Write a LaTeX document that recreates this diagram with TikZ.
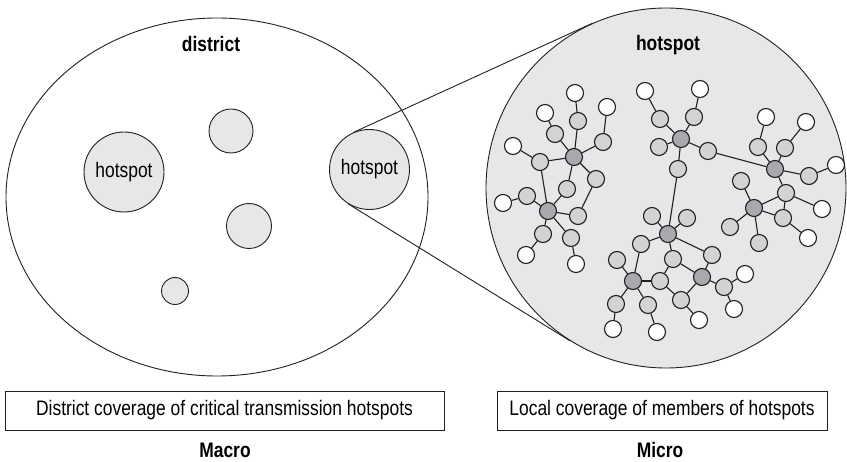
\documentclass[tikz,border=0pt]{standalone}
\usepackage{fontspec}
\setmainfont{Liberation Sans}[FakeStretch=0.83]
\usetikzlibrary{shapes.geometric}
\definecolor{bgfill}{HTML}{E6E7E8}
\definecolor{lightnode}{HTML}{D1D3D4}
\definecolor{darknode}{HTML}{A7A9AC}
\definecolor{ink}{HTML}{231F20}
\begin{document}
\begin{tikzpicture}[x=1pt,y=-1pt,
  font=\fontsize{21}{25}\selectfont,
  outline/.style={draw=ink, line width=0.9pt},
  spot/.style={circle, outline, fill=bgfill, inner sep=0pt},
  ln/.style={circle, draw=ink, line width=1.1pt, fill=lightnode, minimum size=17pt, inner sep=0pt},
  dn/.style={ln, fill=darknode},
  wn/.style={ln, fill=white},
  link/.style={draw=ink, line width=1.1pt},
  textbox/.style={outline, minimum height=39pt, inner sep=0pt},
  title/.style={font=\fontsize{21}{25}\selectfont\bfseries}]
\useasboundingbox (0,0) rectangle (847,462);

% macro side
\node[ellipse, outline, minimum width=422pt, minimum height=358pt, inner sep=0pt] (district) at (217,197) {};
\node[title] (dtitle) at (211,44) {district};
\node[spot, minimum size=80pt] (hs1) at (124,172) {hotspot};
\node[spot, minimum size=44pt] (s2) at (231,131) {};
\node[spot, minimum size=45pt] (s3) at (249,226) {};
\node[spot, minimum size=27pt] (s4) at (175,291) {};

% micro side
\node[spot, minimum size=360pt] (micro) at (666,188) {};
\node[spot, minimum size=80pt] (hs2) at (369.5,169.5) {hotspot};
\draw[outline] (hs2.114.4) -- (micro.114.4);
\draw[outline] (hs2.238.3) -- (micro.238.3);
\node[title] (htitle) at (668,45) {hotspot};

% cluster A
\node[dn] (A0) at (574,157) {};
\node[ln] (a1) at (578,121) {}; \node[wn] (wa1) at (575,93) {};
\node[ln] (a2) at (603,142) {}; \node[wn] (wa2) at (607,107) {};
\node[ln] (a3) at (540,162) {}; \node[wn] (wa3) at (513,146) {};
\node[ln] (a4) at (555,134) {}; \node[wn] (wa4) at (545,113) {};
\node[ln] (a5) at (567,189) {};
\node[ln] (a6) at (596,179) {};
% cluster B
\node[dn] (B0) at (548,211) {};
\node[ln] (b1) at (527,196) {}; \node[wn] (wb1) at (503,203) {};
\node[ln] (b2) at (578,216) {};
\node[ln] (b3) at (543,234) {}; \node[wn] (wb3) at (526,255) {};
\node[ln] (b4) at (571,238) {}; \node[wn] (wb4) at (576,264) {};
% cluster C
\node[dn] (C0) at (681,139) {};
\node[ln] (c1) at (660,119) {}; \node[wn] (wc1) at (645,91) {};
\node[ln] (c2) at (694,117) {}; \node[wn] (wc2) at (700,89) {};
\node[ln] (c3) at (659,147) {};
\node[ln] (c4) at (708,151) {};
\node[ln] (c5) at (678,169) {};
% cluster D
\node[dn] (D0) at (775,169) {};
\node[ln] (d1) at (758,147) {}; \node[wn] (wd1) at (766,117) {};
\node[ln] (d2) at (785,148) {}; \node[wn] (wd2) at (806,122) {};
\node[ln] (d3) at (809,176) {}; \node[wn] (wd3) at (836,165) {};
\node[ln] (d4) at (786,193) {}; \node[wn] (wd4) at (822,209) {};
% cluster F
\node[dn] (F0) at (754,208) {};
\node[ln] (f1) at (741,181) {};
\node[ln] (f2) at (730,227) {};
\node[ln] (f3) at (759,243) {};
\node[ln] (f4) at (783,218) {}; \node[wn] (wf4) at (808,238) {};
% cluster E
\node[dn] (E0) at (668,234) {};
\node[ln] (e1) at (652,216) {};
\node[ln] (e2) at (687,218) {};
\node[ln] (e3) at (641,244) {};
\node[ln] (e4) at (673,259) {};
\node[ln] (e5) at (712,255) {};
% cluster G
\node[dn] (G0) at (633,281) {};
\node[ln] (g1) at (617,260) {};
\node[ln] (g2) at (616,304) {}; \node[wn] (wg2) at (613,329) {};
\node[ln] (g3) at (648,305) {}; \node[wn] (wg3) at (657,332) {};
\node[ln] (g4) at (660,281) {};
% cluster H
\node[dn] (H0) at (702,277) {};
\node[ln] (h1) at (681,300) {}; \node[wn] (wh1) at (699,320) {};
\node[ln] (h2) at (724,287) {}; \node[wn] (wh2a) at (745,274) {}; \node[wn] (wh2b) at (734,309) {};

% links
\foreach \u/\v in {A0/a1,a1/wa1,A0/a2,a2/wa2,A0/a3,a3/wa3,A0/a4,a4/wa4,A0/a5,A0/a6,a6/b2,a3/B0,a5/B0,
  B0/b1,b1/wb1,B0/b2,B0/b3,b3/wb3,B0/b4,b4/wb4,
  C0/c1,c1/wc1,C0/c2,c2/wc2,C0/c3,C0/c4,c4/D0,C0/c5,c5/E0,
  D0/d1,d1/wd1,D0/d2,d2/wd2,D0/d3,d3/wd3,D0/d4,d4/wd4,d4/F0,d4/f4,
  F0/f1,F0/f2,F0/f3,F0/f4,f4/wf4,
  E0/e1,E0/e2,E0/e3,e3/G0,E0/e4,e4/g4,e4/H0,E0/e5,e5/H0,
  G0/g1,G0/g2,g2/wg2,G0/g3,g3/wg3,G0/g4,g4/h1,
  H0/h1,h1/wh1,H0/h2,h2/wh2a,h2/wh2b}
  \draw[link] (\u) -- (\v);

% captions
\node[textbox, minimum width=439pt] (macrobox) at (224.5,410.5) {District coverage of critical transmission hotspots};
\node[textbox, minimum width=330pt] (microbox) at (662,410.5) {Local coverage of members of hotspots};
\node[title] (macro) at (225,450) {Macro};
\node[title] (microl) at (660,450) {Micro};
\end{tikzpicture}
\end{document}
